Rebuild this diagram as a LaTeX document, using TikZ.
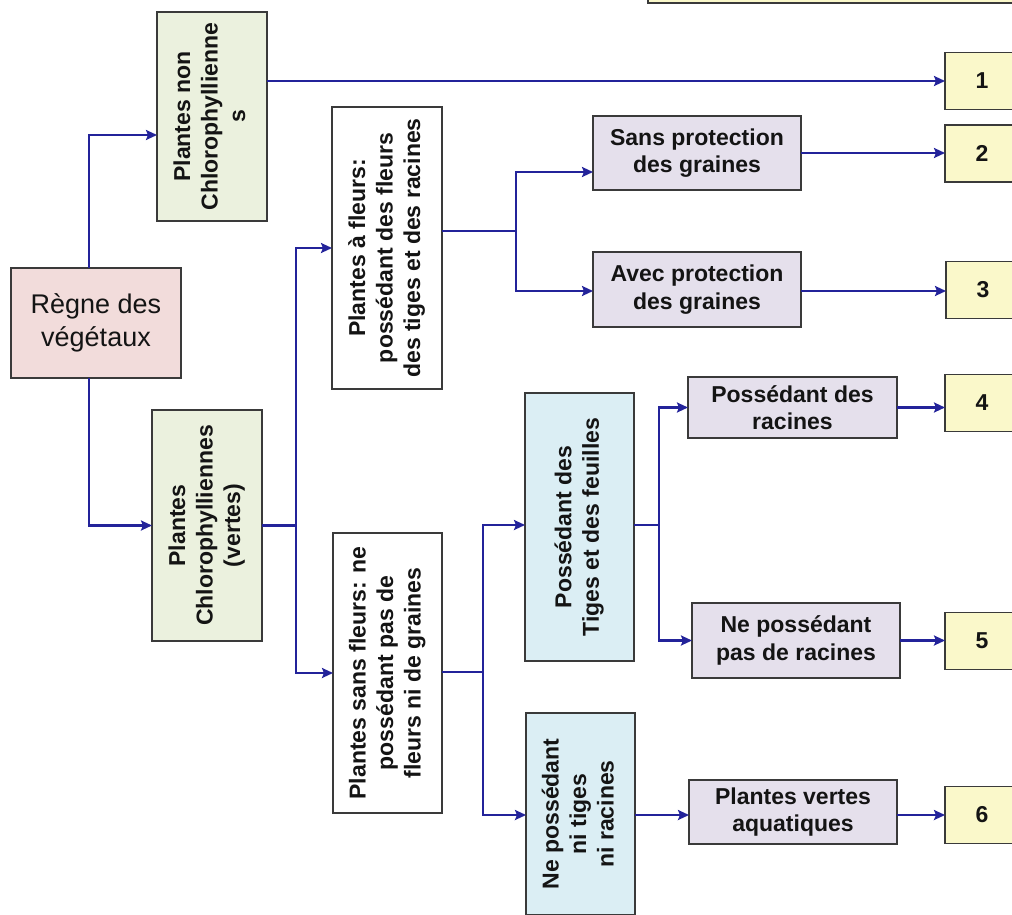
\documentclass[tikz,border=0pt]{standalone}
\usepackage{fontspec}
\setmainfont{Liberation Sans}
\usepackage{graphicx}
\usetikzlibrary{arrows.meta}
\definecolor{cgreen}{HTML}{EBF1DE}
\definecolor{cpink}{HTML}{F2DCDB}
\definecolor{clav}{HTML}{E5E0EC}
\definecolor{cblue}{HTML}{DBEEF4}
\definecolor{cyel}{HTML}{FAF8CA}
\definecolor{cborder}{HTML}{3A3A3A}
\definecolor{cline}{HTML}{23239A}
\definecolor{ctext}{HTML}{141414}
\newcommand\myvtext[1]{\rotatebox{90}{\begin{tabular}{@{}c@{}}#1\end{tabular}}}
\tikzset{
  box/.style={draw=cborder, line width=1.9pt, inner sep=0pt, outer sep=0pt,
    align=center, text=ctext, font=\bfseries\fontsize{23}{27.5}\selectfont},
  gbox/.style={box, fill=cgreen},
  wbox/.style={box, fill=white},
  lbox/.style={box, fill=clav},
  bbox/.style={box, fill=cblue},
  ybox/.style={box, fill=cyel, minimum width=74pt, minimum height=57pt},
  conn/.style={draw=cline, line width=2.4pt},
  arr/.style={conn, -{Stealth[length=11pt,width=10pt,inset=2pt]}}
}
\begin{document}
\begin{tikzpicture}[x=1pt,y=-1pt]
\useasboundingbox (0,0) rectangle (1012,915);
% top partial box
\node[box, fill=cyel, minimum width=380pt, minimum height=30pt, anchor=south west] (topbox) at (648,3) {};
% main nodes
\node[box, fill=cpink, minimum width=170pt, minimum height=110pt,
      font=\fontsize{27}{32.5}\selectfont] (regne) at (96,323) {Règne des\\végétaux};
\node[gbox, minimum width=110pt, minimum height=209pt] (nonchl) at (212,116.5)
  {\myvtext{Plantes non\\Chlorophyllienne\\s}};
\node[gbox, minimum width=110pt, minimum height=231pt] (chl) at (207,525.5)
  {\myvtext{Plantes\\Chlorophylliennes\\(vertes)}};
\node[wbox, minimum width=110pt, minimum height=282pt] (fleurs) at (387,248)
  {\myvtext{Plantes à fleurs:\\possédant des fleurs\\des tiges et des racines}};
\node[wbox, minimum width=109pt, minimum height=280pt] (sansfl) at (387.5,673)
  {\myvtext{Plantes sans fleurs: ne\\possédant pas de\\fleurs ni de graines}};
\node[lbox, minimum width=208pt, minimum height=74pt] (sansprot) at (697,153)
  {Sans protection\\des graines};
\node[lbox, minimum width=208pt, minimum height=75pt] (avecprot) at (697,289.5)
  {Avec protection\\des graines};
\node[bbox, minimum width=109pt, minimum height=268pt] (tiges) at (579.5,527)
  {\myvtext{Possédant des\\Tiges et des feuilles}};
\node[bbox, minimum width=109pt, minimum height=202pt] (nitiges) at (580.5,814)
  {\myvtext{Ne possédant\\ni tiges\\ni racines}};
\node[lbox, minimum width=209pt, minimum height=61pt] (posrac) at (792.5,407.5)
  {Possédant des\\racines};
\node[lbox, minimum width=208pt, minimum height=75pt] (nepos) at (796,640.5)
  {Ne possédant\\pas de racines};
\node[lbox, minimum width=208pt, minimum height=64pt] (vertes) at (793,812)
  {Plantes vertes\\aquatiques};
% numbered boxes
\node[ybox] (n1) at (982,81) {1};
\node[ybox] (n2) at (982,153.5) {2};
\node[ybox] (n3) at (983,290) {3};
\node[ybox] (n4) at (982,403) {4};
\node[ybox] (n5) at (982,641) {5};
\node[ybox] (n6) at (982,815) {6};
% junction coordinates
\coordinate (jA) at (89,135);
\coordinate (jB) at (296,525.5);
\coordinate (jC) at (516,231);
\coordinate (jD) at (483,672);
\coordinate (jE) at (659,525);
\coordinate (s1) at (267,81);
% connectors
\draw[arr] ([xshift=-7pt]regne.north) |- (jA -| nonchl.west);
\draw[arr] ([xshift=-7pt]regne.south) |- (chl.west);
\draw[arr] (s1) -- (s1 -| n1.west);
\draw[conn] (chl.east) -- (jB);
\draw[arr] (jB) |- (fleurs.west);
\draw[arr] (jB) |- (sansfl.west);
\draw[conn] (jC -| fleurs.east) -- (jC);
\draw[arr] (jC) |- ([yshift=-19pt]sansprot.west);
\draw[arr] (jC) |- ([yshift=-1.5pt]avecprot.west);
\draw[arr] (sansprot.east) -- (sansprot.east -| n2.west);
\draw[arr] ([yshift=-1.5pt]avecprot.east) -- ([yshift=-1.5pt]avecprot.east -| n3.west);
\draw[conn] (jD -| sansfl.east) -- (jD);
\draw[arr] (jD) |- ([yshift=2pt]tiges.west);
\draw[arr] (jD) |- ([yshift=-1pt]nitiges.west);
\draw[conn] (jE -| tiges.east) -- (jE);
\draw[arr] (jE) |- (posrac.west);
\draw[arr] (jE) |- (nepos.west);
\draw[arr] (posrac.east) -- (posrac.east -| n4.west);
\draw[arr] (nepos.east) -- (nepos.east -| n5.west);
\draw[arr] ([yshift=-1pt]nitiges.east) -- ([yshift=-1pt]nitiges.east -| vertes.west);
\draw[arr] ([yshift=-3pt]vertes.east) -- ([yshift=-3pt]vertes.east -| n6.west);
\end{tikzpicture}
\end{document}
